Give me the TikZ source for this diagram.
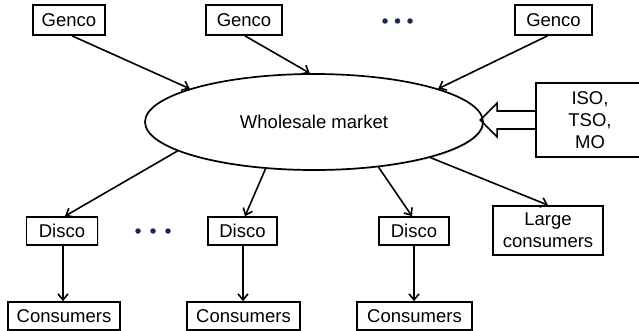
\documentclass[tikz,border=0pt]{standalone}
\usepackage{fontspec}
\setmainfont{Liberation Sans}
\usetikzlibrary{shapes.geometric,arrows.meta,shadows,calc}
\definecolor{dotblue}{RGB}{25,40,85}
\begin{document}
\begin{tikzpicture}[x=1pt,y=-1pt,
  box/.style={draw,line width=1.7pt,fill=white,inner sep=0pt,
    font=\fontsize{18.5}{22}\selectfont,align=center,
    drop shadow={shadow xshift=1.2pt,shadow yshift=-1.2pt,opacity=0.25}},
  arr/.style={line width=1.6pt,-{Straight Barb[length=6pt,width=10pt,line width=1.6pt]}},
  dotnode/.style={circle,fill=dotblue,inner sep=0pt,minimum size=5.5pt}]
\clip (0,0) rectangle (639,331);
\fill[white] (0,0) rectangle (639,331);
% top row
\node[box,minimum width=72,minimum height=30] (g1) at (69,20) {Genco};
\node[box,minimum width=76,minimum height=30] (g2) at (244,20) {Genco};
\node[box,minimum width=77,minimum height=30] (g3) at (553.5,20) {Genco};
\node[dotnode] (t1) at (385,21) {};
\node[dotnode] (t2) at (397.5,21) {};
\node[dotnode] (t3) at (410,21) {};
% market
\node[box,ellipse,minimum width=338,minimum height=96] (e) at (314,122) {Wholesale market};
\node[box,minimum width=108,minimum height=74] (iso) at (590,120) {ISO,\\TSO,\\MO};
% middle row
\node[box,minimum width=71,minimum height=28] (d1) at (62,231) {Disco};
\node[box,minimum width=69,minimum height=28] (d2) at (242.5,231) {Disco};
\node[box,minimum width=70,minimum height=28] (d3) at (414,231) {Disco};
\node[box,minimum width=110,minimum height=49] (lc) at (548,230.5) {Large\\consumers};
\node[dotnode] (b1) at (138,231) {};
\node[dotnode] (b2) at (153,231) {};
\node[dotnode] (b3) at (168,231) {};
% bottom row
\node[box,minimum width=112,minimum height=28] (c1) at (64,316) {Consumers};
\node[box,minimum width=113,minimum height=28] (c2) at (243.5,316) {Consumers};
\node[box,minimum width=115,minimum height=28] (c3) at (414.5,316) {Consumers};
% arrows
\draw[arr] ([xshift=3pt]g1.south) -- (e.165);
\draw[arr] ([xshift=1pt]g2.south) -- (e.95);
\draw[arr] ([xshift=-6pt]g3.south) -- (e.15);
\draw[arr] (e.192.8) -- ([xshift=3pt]d1.north);
\draw[arr] (e.224.4) -- ([xshift=2.5pt]d2.north);
\draw[arr] (e.325) -- ([xshift=-2pt]d3.north);
\draw[arr] (e.343) -- (lc.north);
\draw[arr] ([xshift=1pt]d1.south) -- ([xshift=1pt]d1.south |- c1.north);
\draw[arr] ([xshift=0.5pt]d2.south) -- ([xshift=0.5pt]d2.south |- c2.north);
\draw[arr] (d3.south) -- (d3.south |- c3.north);
% hollow arrow
\draw[line width=1.6pt,line join=miter]
  ($(iso.west)+(0,-9)$) -- ($(iso.west)+(-38,-9)$) -- ($(iso.west)+(-38,-17)$)
  -- ($(iso.west)+(-55,0)$) -- ($(iso.west)+(-38,17)$) -- ($(iso.west)+(-38,9)$)
  -- ($(iso.west)+(0,9)$);
\end{tikzpicture}
\end{document}
